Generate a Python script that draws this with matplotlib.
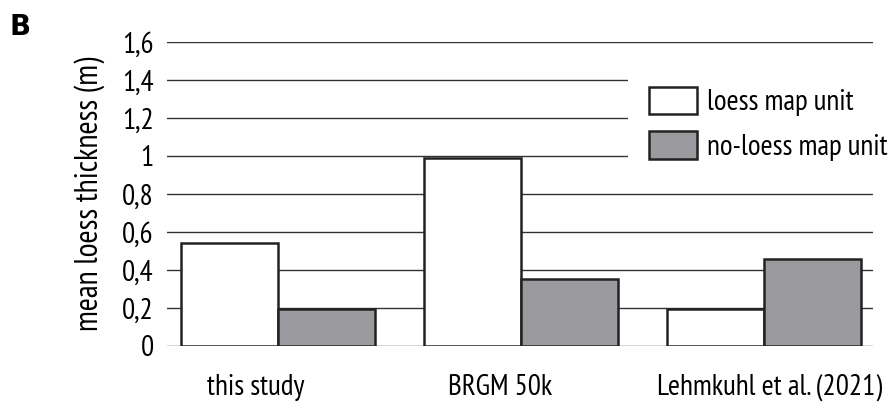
import numpy as np
import matplotlib.pyplot as plt
from matplotlib.transforms import ScaledTranslation

plt.rcParams['font.family'] = ['PT Sans Narrow', 'Archivo Narrow', 'DejaVu Sans']

categories = ['this study', 'BRGM 50k', 'Lehmkuhl et al. (2021)']
loess = [0.54, 0.99, 0.195]
no_loess = [0.195, 0.35, 0.46]
yticks = [0, 0.2, 0.4, 0.6, 0.8, 1.0, 1.2, 1.4, 1.6]
ytick_labels = ['0', '0,2', '0,4', '0,6', '0,8', '1', '1,2', '1,4', '1,6']

fig = plt.figure(figsize=(8.95, 4.07), dpi=100)
ax = fig.add_axes([0.1866, 0.150, 0.789, 0.747])

x = np.arange(len(categories))
w = 0.4
ax.bar(x - w / 2, loess, w, color='white', edgecolor='#222222', linewidth=1.8,
       label='loess map unit', zorder=3)
ax.bar(x + w / 2, no_loess, w, color='#9b9b9f', edgecolor='#222222', linewidth=1.8,
       label='no-loess map unit', zorder=3)

ax.set_xlim(-0.457, 2.45)
ax.set_ylim(0, 1.6)
ax.set_yticks(yticks)
ax.set_yticklabels(ytick_labels, fontsize=21)
ax.set_xticks(x)
ax.set_xticklabels(categories, fontsize=21)
ax.tick_params(axis='both', length=0)
ax.tick_params(axis='y', pad=9.5)
ax.tick_params(axis='x', pad=20)
for lbl, dx in zip(ax.get_xticklabels(), [-22, -21, 6]):
    lbl.set_transform(lbl.get_transform() + ScaledTranslation(dx / 100, 0, fig.dpi_scale_trans))

ax.yaxis.grid(True, color='#333333', linewidth=1.0)
ax.set_axisbelow(True)
for s in ax.spines.values():
    s.set_visible(False)

ax.set_ylabel('mean loess thickness (m)', fontsize=23, labelpad=12)

# white legend background hides the grid lines behind it, as in the original
leg = ax.legend(loc='upper left', bbox_to_anchor=(0.653, 0.922), frameon=True,
                facecolor='white', edgecolor='none', framealpha=1, fancybox=False,
                fontsize=21, handlelength=1.65, handleheight=1.08, handletextpad=0.35,
                labelspacing=0.5, borderpad=0.72, borderaxespad=0)
for h in leg.legend_handles:
    h.set_linewidth(1.8)

fig.text(0.011, 0.915, 'B', fontsize=20, fontweight='bold', family='DejaVu Sans')

fig.savefig('out.png', dpi=100)
